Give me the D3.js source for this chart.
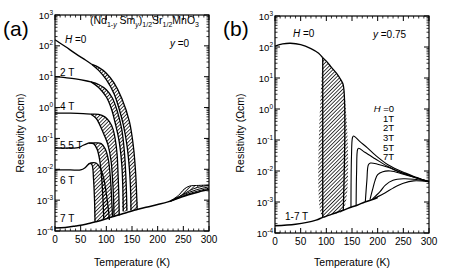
<!DOCTYPE html>
<html>
<head>
<meta charset="utf-8">
<script src="https://cdn.jsdelivr.net/npm/d3@7"></script>
<style>
body { margin: 0; background: #fff; }
text { font-family: "Liberation Sans", Arial, sans-serif; fill: #000; }
</style>
</head>
<body>
<script>
// ---- data (temperature K, resistivity Ohm cm) ----
var decades = [1e-4, 1e-3, 1e-2, 1e-1, 1e0, 1e1, 1e2, 1e3];
var decadeExp = ["-4", "-3", "-2", "-1", "0", "1", "2", "3"];
var tempTicks = [0, 50, 100, 150, 200, 250, 300];

// panel (a), y = 0
var baseA = [[0,1.25e-4],[20,1.3e-4],[40,1.45e-4],[60,1.65e-4],[80,2.0e-4],[100,2.5e-4],[120,3.2e-4],[140,4.0e-4],[160,5.0e-4],[180,6.0e-4],[200,7.2e-4],[220,8.8e-4],[240,1.15e-3],[260,1.5e-3],[280,1.85e-3],[300,2.2e-3]];

var h0A_common = [[0,158],[20,95],[40,56],[60,34],[72,25]];
var h0A_cool = [[72,25],[85,16],[100,8],[115,2.8],[125,0.9],[133,0.28],[140,0.063],[145,0.01],[147.5,1.6e-3],[148,4.6e-4]];
var h0A_warm = [[72,25],[85,20],[100,13],[115,6.3],[130,2.0],[145,0.35],[153,0.05],[157,8e-3],[159,1.6e-3],[160,5.0e-4]];

var h2A_common = [[0,10],[20,9.3],[40,8.5],[60,7.4],[70,6.8]];
var h2A_cool = [[70,6.8],[85,4.5],[100,2.2],[110,0.9],[118,0.28],[125,0.08],[130,0.015],[132,3e-3],[133,4.3e-4]];
var h2A_warm = [[70,6.8],[85,5.6],[100,3.8],[112,2.0],[122,0.7],[130,0.2],[135,0.04],[138,6e-3],[139.5,1.2e-3],[140,4.5e-4]];

var h4A_common = [[0,0.66],[30,0.66],[55,0.64],[70,0.61]];
var h4A_cool = [[70,0.61],[80,0.45],[87,0.28],[95,0.14],[103,0.063],[109,0.02],[112,5e-3],[114,1.2e-3],[115,3.0e-4]];
var h4A_warm = [[70,0.61],[85,0.6],[97,0.5],[106,0.35],[113,0.2],[118,0.08],[121,0.03],[123,6e-3],[124.5,1.2e-3],[125,3.2e-4]];

var h55A_common = [[0,0.049],[30,0.049],[45,0.05],[55,0.06],[65,0.07]];
var h55A_cool = [[65,0.07],[75,0.068],[82,0.045],[87,0.02],[91,5e-3],[93.5,1e-3],[95,2.3e-4]];
var h55A_warm = [[65,0.07],[80,0.072],[90,0.068],[98,0.045],[104,0.02],[108,5e-3],[110.5,1e-3],[112,2.9e-4]];

var h6A_common = [[0,9.5e-3],[30,9.5e-3],[50,9.5e-3],[58,0.011],[64,0.014]];
var h6A_cool = [[64,0.014],[68,0.0155],[72,0.014],[75,5e-3],[77,1e-3],[78,2e-4]];
var h6A_warm = [[64,0.014],[70,0.016],[80,0.016],[88,0.011],[95,5e-3],[100,1.6e-3],[104,5e-4],[106,2.3e-4]];

// high temperature spread in (a)
var hiA_h0_warm = [[225,9.5e-4],[240,1.4e-3],[252,2.3e-3],[262,2.85e-3],[280,3.0e-3],[300,3.1e-3]];
var hiA_h0_cool = [[225,9.5e-4],[240,1.25e-3],[255,1.75e-3],[270,2.35e-3],[285,2.75e-3],[300,3.0e-3]];
var hiA_h2 = [[225,9.3e-4],[250,1.5e-3],[275,2.15e-3],[300,2.7e-3]];
var hiA_h4 = [[225,9.1e-4],[260,1.6e-3],[300,2.45e-3]];

// panel (b), y = 0.75
var baseB = [[0,1.7e-4],[40,1.9e-4],[80,2.6e-4],[93,3.2e-4],[110,4.0e-4],[133,5.4e-4],[148,6.8e-4],[160,7.9e-4],[175,1.0e-3],[190,1.2e-3],[200,1.4e-3]];
var h0B_common = [[0,107],[15,126],[30,132],[50,120],[70,89],[85,63],[93,45]];
var h0B_cool = [[93,45],[93,3.2e-4]];
var h0B_warm = [[93,45],[100,35],[110,22],[120,14],[128,8.9],[133,5.9],[133,5.4e-4]];
var fieldB = ["H =0", "1T", "2T", "3T", "5T", "7T"];
var curvesB = [
  [[148,6.8e-4],[149,0.03],[151,0.12],[153,0.135],[165,0.09],[180,0.056],[195,0.033],[220,0.016],[253,8.7e-3],[275,6.3e-3],[300,4.5e-3]],
  [[158,7.6e-4],[159,0.01],[161,0.05],[163,0.054],[175,0.04],[195,0.025],[220,0.014],[250,8.5e-3],[300,4.5e-3]],
  [[176,1.05e-3],[179,5e-3],[182,0.016],[186,0.018],[200,0.0166],[220,0.0132],[250,8.3e-3],[300,4.5e-3]],
  [[185,1.2e-3],[190,2.5e-3],[195,5e-3],[200,7.6e-3],[210,9.5e-3],[225,0.01],[250,7.9e-3],[300,4.5e-3]],
  [[190,1.25e-3],[205,2.2e-3],[215,3.5e-3],[230,5e-3],[250,5.6e-3],[270,5.4e-3],[300,4.5e-3]],
  [[195,1.35e-3],[215,2e-3],[230,2.8e-3],[250,4e-3],[270,4.8e-3],[300,4.5e-3]]
];

// ---- drawing ----
var svg = d3.select("body").append("svg")
  .attr("width", 457)
  .attr("height", 274);

// diagonal hatching for the hysteresis regions
svg.append("defs").append("pattern")
  .attr("id", "hatch")
  .attr("patternUnits", "userSpaceOnUse")
  .attr("width", 2.6)
  .attr("height", 2.6)
  .attr("patternTransform", "rotate(45)")
  .append("line")
  .attr("x1", 1.3).attr("y1", 0)
  .attr("x2", 1.3).attr("y2", 2.6)
  .attr("stroke", "#000")
  .attr("stroke-width", 0.75);

function makePanel(box, letter) {
  var x = d3.scaleLinear().domain([0, 300]).range([box.l, box.r]);
  var y = d3.scaleLog().domain([1e-4, 1e3]).range([box.b, box.t]);
  var g = svg.append("g");
  var line = d3.line()
    .x(d => x(d[0]))
    .y(d => y(d[1]))
    .curve(d3.curveCatmullRom.alpha(0.5));

  // frame
  g.append("rect")
    .attr("x", box.l).attr("y", box.t)
    .attr("width", box.r - box.l).attr("height", box.b - box.t)
    .attr("fill", "none").attr("stroke", "#000").attr("stroke-width", 1.2);

  // log ticks, inward on left and right
  decades.forEach(function(d, i) {
    [[box.l, 1], [box.r, -1]].forEach(function(s) {
      g.append("line")
        .attr("x1", s[0]).attr("x2", s[0] + s[1] * 5)
        .attr("y1", y(d)).attr("y2", y(d))
        .attr("stroke", "#000").attr("stroke-width", 1);
      if (i < decades.length - 1) {
        for (var m = 2; m < 10; m++) {
          g.append("line")
            .attr("x1", s[0]).attr("x2", s[0] + s[1] * 2.5)
            .attr("y1", y(d * m)).attr("y2", y(d * m))
            .attr("stroke", "#000").attr("stroke-width", 0.8);
        }
      }
    });
    var t = g.append("text")
      .attr("x", box.l - 2)
      .attr("y", y(d) + 3.5)
      .attr("text-anchor", "end")
      .attr("font-size", "9.5px");
    t.append("tspan").text("10");
    t.append("tspan").attr("dy", -4).attr("font-size", "6.5px").text(decadeExp[i]);
  });

  // temperature ticks, inward on top and bottom
  for (var T = 0; T <= 300; T += 10) {
    var len = (T % 50 === 0) ? 5 : 2.5;
    [[box.b, -1], [box.t, 1]].forEach(function(s) {
      g.append("line")
        .attr("x1", x(T)).attr("x2", x(T))
        .attr("y1", s[0]).attr("y2", s[0] + s[1] * len)
        .attr("stroke", "#000").attr("stroke-width", len > 3 ? 1 : 0.8);
    });
  }
  tempTicks.forEach(function(T) {
    g.append("text")
      .attr("x", x(T))
      .attr("y", box.b + 12)
      .attr("text-anchor", "middle")
      .attr("font-size", "10px")
      .text(T);
  });

  // axis titles
  g.append("text")
    .attr("x", (box.l + box.r) / 2)
    .attr("y", 266)
    .attr("text-anchor", "middle")
    .attr("font-size", "10.5px")
    .text("Temperature (K)");
  g.append("text")
    .attr("transform", `translate(${box.l - 31}, 133) rotate(-90)`)
    .attr("text-anchor", "middle")
    .attr("font-size", "10.5px")
    .text("Resistivity (\u03A9cm)");

  // panel letter
  g.append("text")
    .attr("x", box.l - 52)
    .attr("y", 36)
    .attr("font-family", "'Liberation Serif', 'DejaVu Serif', serif")
    .attr("font-size", "21px")
    .text(letter);

  return { x: x, y: y, g: g, line: line };
}

function curve(p, pts, w) {
  p.g.append("path")
    .attr("d", p.line(pts))
    .attr("fill", "none")
    .attr("stroke", "#000")
    .attr("stroke-width", w || 1.3);
}

// hatched area between cooling and warming branches, closed along the base line
function band(p, cool, warm, base) {
  var t0 = cool[cool.length - 1][0];
  var t1 = warm[warm.length - 1][0];
  var mid = base.filter(d => d[0] > t0 && d[0] < t1);
  var poly = cool.concat(mid, warm.slice().reverse());
  p.g.append("path")
    .attr("d", p.line(poly))
    .attr("fill", "url(#hatch)")
    .attr("stroke", "none");
}

var pa = makePanel({ l: 55, r: 209, t: 15, b: 231 }, "(a)");
var pb = makePanel({ l: 275, r: 429, t: 16, b: 233 }, "(b)");

// panel (a) curves
var setsA = [
  [h0A_common, h0A_cool, h0A_warm],
  [h2A_common, h2A_cool, h2A_warm],
  [h4A_common, h4A_cool, h4A_warm],
  [h55A_common, h55A_cool, h55A_warm],
  [h6A_common, h6A_cool, h6A_warm]
];
setsA.forEach(function(s) { band(pa, s[1], s[2], baseA); });
band(pa, hiA_h0_cool, hiA_h0_warm, []);
setsA.forEach(function(s) {
  curve(pa, s[0]);
  curve(pa, s[1]);
  curve(pa, s[2]);
});
curve(pa, baseA, 1.5);
[hiA_h0_warm, hiA_h0_cool, hiA_h2, hiA_h4].forEach(c => curve(pa, c, 1));

// panel (b) curves
band(pb, h0B_cool, h0B_warm, baseB);
curve(pb, h0B_common);
curve(pb, h0B_cool);
curve(pb, h0B_warm);
curve(pb, baseB, 1.5);
curvesB.forEach(c => curve(pb, c, 1.1));

// ---- labels ----
// parts: {t: text, i: italic, sub: subscript}
function label(x, y, parts, size) {
  var t = svg.append("text")
    .attr("x", x).attr("y", y)
    .attr("font-size", (size || 10) + "px");
  var off = 0;
  parts.forEach(function(pt) {
    var want = pt.sub ? 2.5 : 0;
    var s = t.append("tspan").text(pt.t).attr("dy", want - off);
    off = want;
    if (pt.i) s.attr("font-style", "italic");
    if (pt.sub) s.attr("font-size", "7px");
  });
  return t;
}

label(90, 24, [
  { t: "(Nd" }, { t: "1-", sub: true }, { t: "y", sub: true, i: true },
  { t: " Sm" }, { t: "y", sub: true, i: true }, { t: ")" },
  { t: "1/2", sub: true }, { t: "Sr" }, { t: "1/2", sub: true },
  { t: "MnO" }, { t: "3", sub: true }
], 10.5);
label(65, 43, [{ t: "H", i: true }, { t: " =0" }]);
label(170, 47, [{ t: "y", i: true }, { t: " =0" }]);
label(60, 76, [{ t: "2 T" }]);
label(60, 110, [{ t: "4 T" }]);
label(60, 149, [{ t: "5.5 T" }]);
label(60, 184, [{ t: "6 T" }]);
label(60, 222, [{ t: "7 T" }]);

label(293, 37, [{ t: "H", i: true }, { t: " =0" }]);
label(373, 38, [{ t: "y", i: true }, { t: " =0.75" }]);
label(285, 220, [{ t: "1-7 T" }]);
var legendY = [112, 121.5, 131, 140.5, 150.5, 160];
fieldB.forEach(function(f, i) {
  var t = svg.append("text")
    .attr("x", 394).attr("y", legendY[i])
    .attr("text-anchor", "end")
    .attr("font-size", "9.5px");
  if (i === 0) {
    t.append("tspan").attr("font-style", "italic").text("H");
    t.append("tspan").text(" =0");
  } else {
    t.text(f);
  }
});
</script>
</body>
</html>
